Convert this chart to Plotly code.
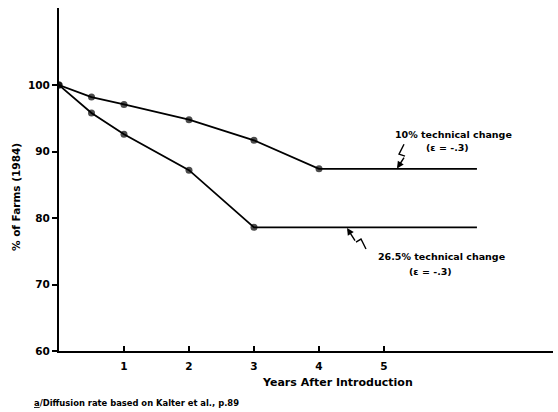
import plotly.graph_objects as go

# Data
years_10 = [0, 0.5, 1, 2, 3, 4, 6.43]
pct_10 = [100, 98.2, 97.1, 94.8, 91.7, 87.4, 87.4]
marker_10 = [7, 7, 7, 7, 7, 7, 0]

years_26 = [0, 0.5, 1, 2, 3, 6.43]
pct_26 = [100, 95.8, 92.6, 87.2, 78.6, 78.6]
marker_26 = [7, 7, 7, 7, 7, 0]

x_ticks = [1, 2, 3, 4, 5]
x_tick_labels = ["1", "2", "3", "4", "5"]
y_ticks = [60, 70, 80, 90, 100]
y_tick_labels = ["60", "70", "80", "90", "100"]

label_10 = "10% technical change"
label_26 = "26.5% technical change"
label_e = "(ε = -.3)"

FONT = "DejaVu Sans"
INK = "#000000"

fig = go.Figure()
fig.add_trace(go.Scatter(x=years_10, y=pct_10, mode="lines+markers",
                         line=dict(color=INK, width=1.8),
                         marker=dict(color=INK, size=marker_10,
                                     line=dict(width=0)),
                         showlegend=False, hoverinfo="skip"))
fig.add_trace(go.Scatter(x=years_26, y=pct_26, mode="lines+markers",
                         line=dict(color=INK, width=1.8),
                         marker=dict(color=INK, size=marker_26,
                                     line=dict(width=0)),
                         showlegend=False, hoverinfo="skip"))

# squiggle pointers
fig.add_shape(type="path", xref="x", yref="y",
              path="M 5.308 91.1 L 5.231 89.62 L 5.323 89.32",
              line=dict(color=INK, width=1.4))
fig.add_annotation(x=5.2, y=87.45, ax=5.323, ay=89.32, xref="x", yref="y",
                   axref="x", ayref="y", text="", showarrow=True,
                   arrowhead=2, arrowsize=1, arrowwidth=1.4, arrowcolor=INK)
fig.add_shape(type="path", xref="x", yref="y",
              path="M 4.569 76.39 L 4.646 76.84 L 4.723 75.34",
              line=dict(color=INK, width=1.4))
fig.add_annotation(x=4.431, y=78.5, ax=4.569, ay=76.39, xref="x", yref="y",
                   axref="x", ayref="y", text="", showarrow=True,
                   arrowhead=2, arrowsize=1, arrowwidth=1.4, arrowcolor=INK)

txt = dict(family=FONT, size=9.5, color=INK, weight="bold")
for xx, yy, tt in [(6.07, 92.63, label_10), (5.98, 90.68, label_e),
                   (5.877, 74.29, label_26), (5.72, 72.03, label_e)]:
    fig.add_annotation(x=xx, y=yy, xref="x", yref="y", text=tt,
                       xanchor="center", yanchor="middle",
                       showarrow=False, font=txt)

# axis titles and footnote
fig.add_annotation(x=-0.087, y=0.449, xref="paper", yref="paper",
                   xanchor="center", yanchor="middle",
                   text="% of Farms (1984)", textangle=-90, showarrow=False,
                   font=dict(family=FONT, size=10.5, color=INK, weight="bold"))
fig.add_annotation(x=0.563, y=-0.0904, xref="paper", yref="paper",
                   xanchor="center", yanchor="middle",
                   text="Years After Introduction", showarrow=False,
                   font=dict(family=FONT, size=11, color=INK, weight="bold"))
fig.add_annotation(x=-0.0547, y=-0.1516, xref="paper", yref="paper",
                   xanchor="left", yanchor="middle",
                   text="<u>a</u>/Diffusion rate based on Kalter et al., p.89",
                   showarrow=False,
                   font=dict(family=FONT, size=8.4, color=INK, weight="bold"))

fig.update_layout(
    width=558, height=412,
    margin=dict(l=59, r=5, t=8, b=61),
    paper_bgcolor="white", plot_bgcolor="white",
    font=dict(family=FONT, color=INK),
)
tickfont = dict(family=FONT, size=10.5, color=INK, weight="bold")
fig.update_xaxes(range=[0, 7.6], showgrid=False, zeroline=False,
                 showline=True, linecolor=INK, linewidth=2.2,
                 tickmode="array", tickvals=x_ticks, ticktext=x_tick_labels,
                 ticks="inside", ticklen=5, tickwidth=1.5, tickcolor=INK,
                 ticklabelstandoff=4, tickfont=tickfont)
fig.update_yaxes(range=[60, 111.6], showgrid=False, zeroline=False,
                 showline=True, linecolor=INK, linewidth=2.2,
                 tickmode="array", tickvals=y_ticks, ticktext=y_tick_labels,
                 ticks="outside", ticklen=5, tickwidth=1.5, tickcolor=INK,
                 tickfont=tickfont)

fig.write_html("out.html", config={"displayModeBar": False},
               post_script="document.body.style.margin='0px';document.body.style.padding='0px';")
